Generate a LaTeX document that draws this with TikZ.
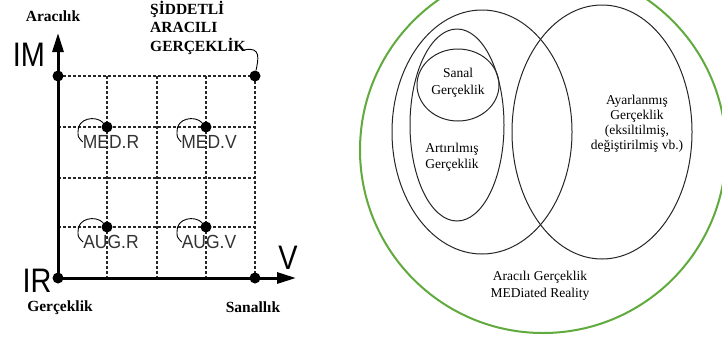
\documentclass[tikz,border=0pt]{standalone}
\usepackage{fontspec}
\setmainfont{Liberation Serif}
\setsansfont{Liberation Sans}
\usetikzlibrary{arrows.meta}
\definecolor{mrgreen}{RGB}{96,170,62}
\begin{document}
\begin{tikzpicture}[x=1pt,y=-1pt,
  bigdot/.style={circle,fill=black,inner sep=0pt,minimum size=11pt},
  dashgrid/.style={dash pattern=on 3pt off 2pt,line width=1.1pt,black!85},
  axisline/.style={line width=3pt,-{Triangle[length=19pt,width=11pt]}},
  boldlbl/.style={font=\fontsize{15.5}{18.5}\selectfont\bfseries,inner sep=0pt},
  modelbl/.style={font=\sffamily\fontsize{19}{19}\selectfont,text=black!80,inner sep=0pt,xscale=0.92},
  axislbl/.style={font=\sffamily\fontsize{34}{34}\selectfont,inner sep=0pt,xscale=0.85},
  hookline/.style={line width=0.9pt},
  venn/.style={line width=1pt,black!85},
  venntxt/.style={font=\fontsize{13.5}{15}\selectfont,align=center,inner sep=0pt}
]
\useasboundingbox (0,0) rectangle (722,338);
\fill[white] (0,0) rectangle (722,338);

% ---------- left diagram ----------
\foreach \x in {107,157,206,255} \draw[dashgrid] (\x,76) -- (\x,278);
\foreach \y in {76,127,178,227} \draw[dashgrid] (58,\y) -- (255,\y);

\node[bigdot] (R) at (58,278) {};
\coordinate (Mtip) at (58,33);
\coordinate (Vtip) at (296,278);
\draw[axisline] (R.center) -- (Mtip);
\draw[axisline] (R.center) -- (Vtip);

\node[bigdot] (M) at (58,76) {};
\node[bigdot] (S) at (255,278) {};
\node[bigdot] (SAR) at (255,76) {};
\node[bigdot] (medr) at (107,127) {};
\node[bigdot] (medv) at (206,127) {};
\node[bigdot] (augr) at (107,227) {};
\node[bigdot] (augv) at (206,227) {};

\node[axislbl] (lIM) at (29,55) {IM};
\node[axislbl] (lIR) at (37,281) {IR};
\node[axislbl] (lV) at (288,258) {V};

\node[boldlbl] (lAr) at (53,16) {Aracılık};
\node[boldlbl,align=left,anchor=north west] (lSAG) at (150,1) {ŞİDDETLİ\\ARACILI\\GERÇEKLİK};
\node[boldlbl] (lGer) at (60,308) {Gerçeklik};
\node[boldlbl] (lSan) at (253,307) {Sanallık};

\node[modelbl] (tmr) at (111,142) {MED.R};
\node[modelbl] (tmv) at (209,142) {MED.V};
\node[modelbl] (tar) at (111,242) {AUG.R};
\node[modelbl] (tav) at (209,242) {AUG.V};

\draw[hookline] (medr) .. controls (96,115) and (77,118) .. (78,132) .. controls (78,137) .. (tmr.west);
\draw[hookline] (medv) .. controls (195,115) and (176,118) .. (177,132) .. controls (177,137) .. (tmv.west);
\draw[hookline] (augr) .. controls (96,215) and (77,218) .. (78,232) .. controls (78,237) .. (tar.west);
\draw[hookline] (augv) .. controls (195,215) and (176,218) .. (177,232) .. controls (177,237) .. (tav.west);

\coordinate (hk) at (244,50);
\draw[hookline] (hk) .. controls (262,46) and (258,60) .. (SAR);

% ---------- right diagram ----------
\begin{scope}
  \clip (0,0) rectangle (722,338);
  \draw[mrgreen,line width=2pt] (543,150) circle (183pt);
\end{scope}
\draw[venn] (482,132) ellipse [x radius=90pt,y radius=122pt];
\draw[venn] (602,132) ellipse [x radius=90pt,y radius=127pt];
\draw[venn] (457,125) ellipse [x radius=47pt,y radius=96pt];
\draw[venn] (458,85) ellipse [x radius=41pt,y radius=36pt];

\node[venntxt,font=\fontsize{13.5}{17}\selectfont] (tVR) at (458,83) {Sanal\\Gerçeklik};
\node[venntxt,font=\fontsize{13.5}{16}\selectfont] (tAR) at (452,157) {Artırılmış\\Gerçeklik};
\node[venntxt] (tAy) at (637,124) {Ayarlanmış\\Gerçeklik\\(eksiltilmiş,\\değiştirilmiş vb.)};
\node[venntxt,font=\fontsize{13.5}{17}\selectfont] (tMR) at (540,286) {Aracılı Gerçeklik\\MEDiated Reality};
\end{tikzpicture}
\end{document}
